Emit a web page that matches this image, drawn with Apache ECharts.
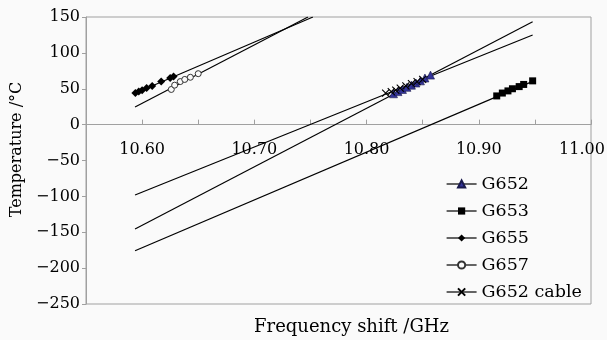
<!DOCTYPE html>
<html>
<head>
<meta charset="utf-8">
<script src="https://cdn.jsdelivr.net/npm/echarts@6/dist/echarts.min.js"></script>
<style>
  html, body { margin: 0; padding: 0; background: #fafafa; }
  #chart { width: 607px; height: 340px; }
</style>
</head>
<body>
<div id="chart"></div>
<script>
// Brillouin frequency shift (GHz) against temperature (°C) for several fibre types
const g652Freq = [10.824, 10.828, 10.832, 10.836, 10.840, 10.844, 10.848, 10.852, 10.857];
const g652Temp = [43, 46, 49, 52, 55, 58, 61, 65, 69];

const g653Freq = [10.916, 10.921, 10.926, 10.930, 10.936, 10.940, 10.948];
const g653Temp = [40, 44, 47, 50, 53, 56, 61];

const g655Freq = [10.594, 10.597, 10.600, 10.604, 10.609, 10.617, 10.625, 10.628];
const g655Temp = [44, 46, 48, 51, 54, 60, 65, 67];

const g657Freq = [10.626, 10.629, 10.634, 10.638, 10.643, 10.650];
const g657Temp = [49, 55, 60, 63, 66, 71];

const cableFreq = [10.817, 10.822, 10.826, 10.830, 10.835, 10.840, 10.845, 10.850];
const cableTemp = [44, 46, 48, 51, 54, 57, 60, 63];

// Linear fits, each given by its two end points [frequency, temperature]
const fitG652 = [[10.5937, -145.5], [10.948, 143.4]];
const fitG653 = [[10.5937, -175.7], [10.948, 60.3]];
const fitG655 = [[10.5937, 43.7], [10.7522, 150]];
const fitG657 = [[10.5937, 24.6], [10.7478, 150]];
const fitCable = [[10.5937, -98.1], [10.948, 125]];

// Axis ranges and tick spacing
const xMin = 10.55, xMax = 11.00, xStep = 0.05;
const yMin = -250, yMax = 150, yStep = 50;

const FONT = '"DejaVu Serif", serif';
const AXIS_GREY = '#a0a0a0';

const pairs = (xs, ys) => xs.map((x, i) => [x, ys[i]]);

function pointSeries(name, xs, ys, symbol, size, itemStyle) {
  return {
    name, type: 'line', data: pairs(xs, ys),
    symbol, symbolSize: size, showSymbol: true,
    lineStyle: { width: 0, opacity: 0 },
    itemStyle, z: 5, animation: false
  };
}

function fitSeries(name, pts) {
  return {
    name, type: 'line', data: pts, symbol: 'none',
    lineStyle: { color: '#000', width: 1.2 },
    silent: true, z: 3, clip: true, animation: false
  };
}

const crossPath = 'path://M0,0L10,10M0,10L10,0';

const chart = echarts.init(document.getElementById('chart'), null, { renderer: 'canvas' });
chart.setOption({
  backgroundColor: '#fafafa',
  animation: false,
  textStyle: { fontFamily: FONT, color: '#000' },
  grid: {
    left: 86, top: 17, right: 16, bottom: 36,
    containLabel: false, outerBoundsMode: 'none',
    show: true, borderColor: AXIS_GREY, borderWidth: 1, backgroundColor: 'transparent'
  },
  legend: {
    data: ['G652', 'G653', 'G655', 'G657', 'G652 cable'],
    orient: 'vertical', left: 441, top: 170,
    itemWidth: 30, itemHeight: 9, itemGap: 9,
    lineStyle: { color: '#000', width: 1.2, opacity: 1 },
    textStyle: { fontFamily: FONT, fontSize: 17.5, color: '#000', lineHeight: 18 },
    selectedMode: false
  },
  xAxis: {
    type: 'value', min: xMin, max: xMax, interval: xStep,
    axisLine: { show: true, onZero: true, lineStyle: { color: AXIS_GREY, width: 1 } },
    axisTick: { show: true, inside: true, length: 5, lineStyle: { color: AXIS_GREY } },
    splitLine: { show: false },
    axisLabel: {
      // tick labels sit just under the zero line rather than at the plot bottom
      margin: -162, fontFamily: FONT, fontSize: 16, color: '#000',
      showMinLabel: true, showMaxLabel: true,
      formatter: v => {
        const c = Math.round(v * 100);
        if (c % 10 !== 0) return '';
        const s = v.toFixed(2);
        return c === Math.round(xMax * 100) ? '{end|' + s + '}' : s;
      },
      rich: { end: { fontFamily: FONT, fontSize: 16, color: '#000', padding: [0, 18, 0, 0] } }
    },
    name: 'Frequency shift /GHz', nameLocation: 'middle', nameGap: 14,
    nameTextStyle: { fontFamily: FONT, fontSize: 18, color: '#000', padding: [0, 0, 0, 26] }
  },
  yAxis: {
    type: 'value', min: yMin, max: yMax, interval: yStep,
    axisLine: { show: true, onZero: false, lineStyle: { color: AXIS_GREY, width: 1 } },
    axisTick: { show: true, length: 4, lineStyle: { color: AXIS_GREY } },
    splitLine: { show: false },
    axisLabel: {
      margin: 6, fontFamily: FONT, fontSize: 16, color: '#000',
      formatter: v => String(v).replace('-', '\u2212')
    },
    name: 'Temperature /°C', nameLocation: 'middle', nameGap: 60,
    nameTextStyle: { fontFamily: FONT, fontSize: 16, color: '#000', padding: [0, 0, 0, 22] }
  },
  series: [
    fitSeries('G652 fit', fitG652),
    fitSeries('G653 fit', fitG653),
    fitSeries('G655 fit', fitG655),
    fitSeries('G657 fit', fitG657),
    fitSeries('G652 cable fit', fitCable),
    pointSeries('G652', g652Freq, g652Temp, 'triangle', 8,
      { color: '#333399', borderColor: '#1a1a4d', borderWidth: 0.6 }),
    pointSeries('G653', g653Freq, g653Temp, 'rect', 7,
      { color: '#000', borderColor: '#000', borderWidth: 0 }),
    pointSeries('G655', g655Freq, g655Temp, 'diamond', 8,
      { color: '#000', borderColor: '#000', borderWidth: 0 }),
    pointSeries('G657', g657Freq, g657Temp, 'circle', 6,
      { color: '#fafafa', borderColor: '#333', borderWidth: 1 }),
    pointSeries('G652 cable', cableFreq, cableTemp, crossPath, 7,
      { color: '#000', borderColor: '#000', borderWidth: 1.1 })
  ]
});
</script>
</body>
</html>
